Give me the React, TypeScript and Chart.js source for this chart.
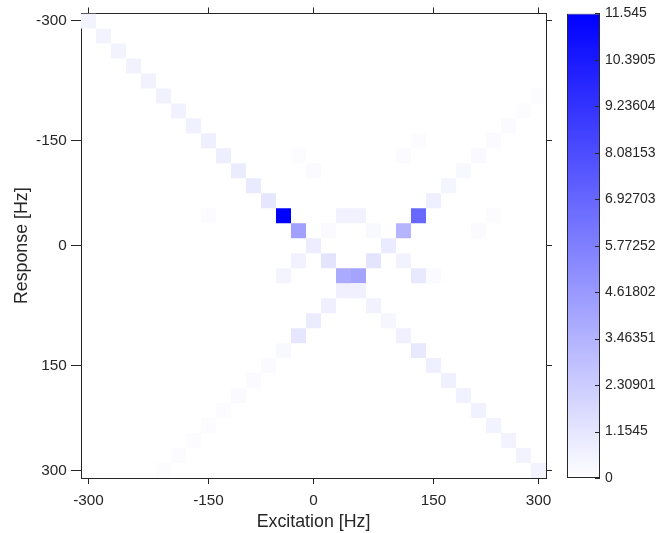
import React, { useEffect, useRef } from 'react';
import { Chart, registerables } from 'chart.js';

Chart.register(...registerables);

// ---- categories (Hz) ----
const FREQS = [
  -300, -280, -260, -240, -220, -200, -180, -160, -140, -120, -100, -80, -60, -40, -20,
  0, 20, 40, 60, 80, 100, 120, 140, 160, 180, 200, 220, 240, 260, 280, 300,
];
const FREQ_LABELS = FREQS.map(String);

// tick positions (category index) and their labels
const AXIS_TICK_INDEX = [0, 8, 15, 23, 30];
const AXIS_TICK_LABELS = ['-300', '-150', '0', '150', '300'];

// ---- cells: [excitation Hz, response Hz, magnitude] ----
const DIAGONAL_CELLS: [number, number, number][] = [
  [-300, -300, 0.54], [-280, -280, 0.54], [-260, -260, 0.54], [-240, -240, 0.59],
  [-220, -220, 0.59], [-200, -200, 0.59], [-180, -180, 0.63], [-160, -160, 0.68],
  [-140, -140, 0.72], [-120, -120, 0.77], [-100, -100, 0.86], [-80, -80, 0.95],
  [-60, -60, 1.13], [-40, -40, 11.545], [-20, -20, 4.3], [0, 0, 0.82],
  [20, 20, 1.22], [40, 40, 3.85], [60, 60, 0.68], [80, 80, 0.59],
  [100, 100, 0.41], [120, 120, 0.68], [140, 140, 1.04], [160, 160, 0.72],
  [180, 180, 0.68], [200, 200, 0.63], [220, 220, 0.63], [240, 240, 0.54],
  [260, 260, 0.54], [280, 280, 0.54], [300, 300, 0.54],
];

const CROSS_CELLS: [number, number, number][] = [
  [-200, 300, 0.14], [-180, 280, 0.14], [-160, 260, 0.14], [-140, 240, 0.14],
  [-120, 220, 0.14], [-100, 200, 0.18], [-80, 180, 0.18], [-60, 160, 0.23],
  [-40, 140, 0.32], [-20, 120, 1.13], [0, 100, 0.86], [20, 80, 0.72],
  [40, 60, 0.68], [60, 40, 4.12], [80, 20, 1.22], [100, 0, 0.91],
  [120, -20, 3.35], [140, -40, 6.84], [160, -60, 0.72], [180, -80, 0.45],
  [200, -100, 0.32], [220, -120, 0.27], [240, -140, 0.23], [260, -160, 0.18],
  [280, -180, 0.14], [300, -200, 0.14],
];

const SIDE_CELLS: [number, number, number][] = [
  [-140, -40, 0.14], [-20, -120, 0.14], [0, -100, 0.18], [120, -120, 0.18],
  [140, -140, 0.14], [220, -20, 0.18], [240, -40, 0.14], [20, -20, 0.23],
  [80, -20, 0.32], [40, -40, 0.63], [60, -40, 0.63], [-20, 20, 0.63],
  [120, 20, 0.54], [-40, 40, 0.5], [140, 40, 1.04], [160, 40, 0.18],
];

// ---- colour bar ----
const CB_MAX = 11.545;
const CB_TICKS = [0, 1.1545, 2.30901, 3.46351, 4.61802, 5.77252, 6.92703, 8.08153, 9.23604, 10.3905, 11.545];
const CB_LABELS = CB_TICKS.map(String);

const FONT = "'Liberation Sans', Arial, sans-serif";
const INK = '#262626';

function colorFor(v: number): string {
  const t = Math.max(0, Math.min(1, v / CB_MAX));
  const c = Math.round(255 * (1 - t));
  return `rgb(${c},${c},255)`;
}

const respIndex = (f: number) => FREQS.indexOf(f);

function toDataset(cells: [number, number, number][]) {
  return {
    type: 'bar' as const,
    data: cells.map(([ex, re]) => ({
      x: String(ex),
      y: [respIndex(re) - 0.5, respIndex(re) + 0.5],
    })),
    backgroundColor: cells.map((c) => colorFor(c[2])),
    borderWidth: 0,
    inflateAmount: 0,
    categoryPercentage: 1,
    barPercentage: 1,
    grouped: false,
  };
}

const setAxisTicks = (scale: any) => {
  scale.ticks = AXIS_TICK_INDEX.map((v) => ({ value: v }));
};
const axisLabel = (value: any) => {
  const k = AXIS_TICK_INDEX.indexOf(Number(value));
  return k >= 0 ? AXIS_TICK_LABELS[k] : '';
};

export default function App() {
  const mainRef = useRef<HTMLCanvasElement | null>(null);
  const cbRef = useRef<HTMLCanvasElement | null>(null);

  useEffect(() => {
    if (!mainRef.current || !cbRef.current) return;
    const tickFont = { family: FONT, size: 15.3 };
    const titleFont = { family: FONT, size: 17.8 };

    const main = new Chart(mainRef.current, {
      type: 'bar',
      data: {
        labels: FREQ_LABELS,
        datasets: [toDataset(DIAGONAL_CELLS), toDataset(CROSS_CELLS), toDataset(SIDE_CELLS)] as any,
      },
      options: {
        responsive: false,
        animation: false,
        events: [],
        layout: { padding: 0 },
        plugins: { legend: { display: false }, tooltip: { enabled: false } },
        scales: {
          x: {
            type: 'category',
            labels: FREQ_LABELS,
            position: 'bottom',
            offset: true,
            afterBuildTicks: setAxisTicks,
            afterFit: (s: any) => { s.height = 55; },
            ticks: {
              autoSkip: false, maxRotation: 0, minRotation: 0, padding: 7.3,
              color: INK, font: tickFont, callback: (v: any) => axisLabel(v),
            },
            grid: { offset: false, drawOnChartArea: false, tickLength: 6, color: INK, tickColor: INK },
            border: { display: true, color: INK, width: 1 },
            title: { display: true, text: 'Excitation [Hz]', color: INK, font: titleFont, padding: { top: 0, bottom: 0 } },
          },
          x2: {
            type: 'category',
            labels: FREQ_LABELS,
            position: 'top',
            offset: true,
            afterBuildTicks: setAxisTicks,
            afterFit: (s: any) => { s.height = 13; },
            ticks: { display: false, autoSkip: false },
            grid: { offset: false, drawOnChartArea: false, tickLength: 6, color: INK, tickColor: INK },
            border: { display: true, color: INK, width: 1 },
          },
          y: {
            type: 'linear',
            position: 'left',
            reverse: true,
            min: -0.5,
            max: 30.5,
            afterBuildTicks: setAxisTicks,
            afterFit: (s: any) => { s.width = 81; },
            ticks: { padding: 4.3, color: INK, font: tickFont, callback: (v: any) => axisLabel(v) },
            grid: { drawOnChartArea: false, tickLength: 10, color: INK, tickColor: INK },
            border: { display: true, color: INK, width: 1 },
            title: { display: true, text: 'Response [Hz]', color: INK, font: titleFont, padding: { top: 11.8, bottom: 0 } },
          },
          y2: {
            type: 'linear',
            position: 'right',
            reverse: true,
            min: -0.5,
            max: 30.5,
            afterBuildTicks: setAxisTicks,
            afterFit: (s: any) => { s.width = 121; },
            ticks: { display: false },
            grid: { drawOnChartArea: false, tickLength: 6, color: INK, tickColor: INK },
            border: { display: true, color: INK, width: 1 },
          },
        },
      } as any,
    });

    const cbTickPlugin = {
      id: 'cbInnerTicks',
      afterDatasetsDraw(chart: any) {
        const { ctx, chartArea, scales } = chart;
        const y = scales.y;
        ctx.save();
        ctx.strokeStyle = INK;
        ctx.lineWidth = 1;
        CB_TICKS.forEach((v) => {
          const py = Math.round(y.getPixelForValue(v)) + 0.5;
          ctx.beginPath();
          ctx.moveTo(chartArea.right - 5, py);
          ctx.lineTo(chartArea.right, py);
          ctx.stroke();
        });
        ctx.restore();
      },
    };

    const cb = new Chart(cbRef.current, {
      type: 'bar',
      data: {
        labels: ['colorbar'],
        datasets: [{
          data: [[0, CB_MAX]],
          backgroundColor: (c: any) => {
            const chart = c.chart;
            const y = chart.scales && chart.scales.y;
            if (!y || !chart.chartArea) return colorFor(CB_MAX / 2);
            const g = chart.ctx.createLinearGradient(0, y.getPixelForValue(0), 0, y.getPixelForValue(CB_MAX));
            g.addColorStop(0, colorFor(0));
            g.addColorStop(1, colorFor(CB_MAX));
            return g;
          },
          borderColor: INK,
          borderWidth: 1,
          borderSkipped: false,
          inflateAmount: 0,
          categoryPercentage: 1,
          barPercentage: 1,
        }] as any,
      },
      options: {
        responsive: false,
        animation: false,
        events: [],
        layout: { padding: { left: 27, top: 13, bottom: 55, right: 0 } },
        plugins: { legend: { display: false }, tooltip: { enabled: false } },
        scales: {
          x: { display: false },
          y: {
            position: 'right',
            min: 0,
            max: CB_MAX,
            afterBuildTicks: (s: any) => { s.ticks = CB_TICKS.map((v) => ({ value: v })); },
            afterFit: (s: any) => { s.width = 67; },
            ticks: {
              padding: 5, color: INK, font: { family: FONT, size: 14 },
              callback: (v: any) => {
                const k = CB_TICKS.indexOf(Number(v));
                return k >= 0 ? CB_LABELS[k] : '';
              },
            },
            grid: { display: false, drawTicks: false },
            border: { display: false },
          },
        },
      } as any,
      plugins: [cbTickPlugin],
    });

    return () => {
      main.destroy();
      cb.destroy();
    };
  }, []);

  return (
    <div style={{ position: 'fixed', left: 0, top: 0, width: 667, height: 533, background: '#ffffff' }}>
      <canvas ref={mainRef} width={667} height={533} style={{ position: 'absolute', left: 0, top: 0, width: 667, height: 533 }} />
      <canvas ref={cbRef} width={127} height={533} style={{ position: 'absolute', left: 540, top: 0, width: 127, height: 533 }} />
    </div>
  );
}
